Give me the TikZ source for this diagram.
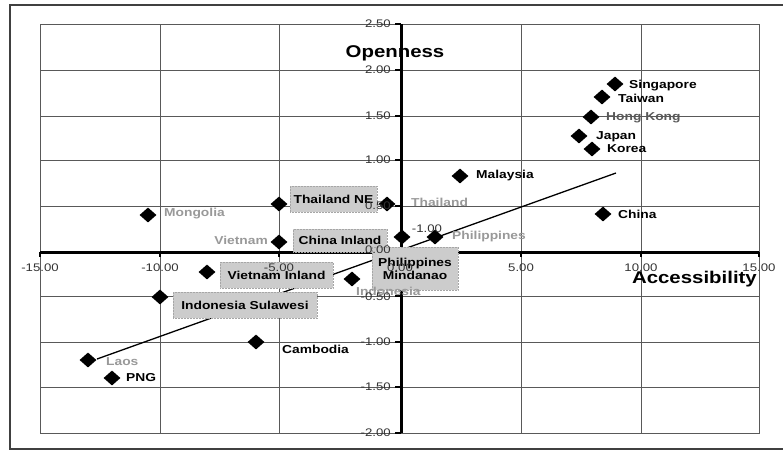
\documentclass[tikz,border=0pt]{standalone}
\usepackage{fontspec}
\setmainfont{Liberation Sans}[FakeStretch=1.2]
\usetikzlibrary{shapes.geometric}
\begin{document}
\begin{tikzpicture}[x=1pt,y=-1pt,
  dia/.style={diamond, fill=black, minimum width=17pt, minimum height=15pt, inner sep=0pt},
  lab/.style={anchor=west, font=\fontsize{11.5}{12}\selectfont\bfseries, inner sep=0pt},
  glab/.style={lab, text=black!40},
  lbox/.style={fill=black!20, draw=black!35, densely dotted, line width=0.5pt,
    font=\fontsize{11.5}{13}\selectfont\bfseries, align=center, inner sep=0pt},
  tickl/.style={font=\fontsize{11}{12}\selectfont, text=black!80, inner sep=0pt},
  gridl/.style={draw=black!65, line width=0.9pt},
  axisl/.style={line width=3pt},
  ttl/.style={font=\fontsize{17}{18}\selectfont\bfseries, inner sep=0pt}]
\useasboundingbox (0,0) rectangle (783,451);
\fill[white] (0,0) rectangle (783,451);
% outer frame
\draw[line width=2pt, black!75] (783,5) -- (10,5) -- (10,449) -- (783,449);
% grid
\foreach \gx in {160,279,521,641} \draw[gridl] (\gx,24) -- (\gx,433);
\foreach \gy in {70,116,160,206,296,342,387} \draw[gridl] (40,\gy) -- (759,\gy);
\draw[gridl] (40,24) rectangle (759,433);
% axes
\draw[axisl] (401,24) -- (401,433);
\draw[axisl] (40,252) -- (759,252);
\foreach \gy in {24,70,116,160,206,296,342,387,433} \draw[line width=2pt] (395,\gy) -- (401,\gy);
\foreach \gx in {40,160,279,521,641,759} \draw[line width=2pt] (\gx,252) -- (\gx,257);
% trend line
\coordinate (t1) at (97,359);
\coordinate (t2) at (616,173);
\draw[line width=1.3pt] (t1) -- (t2);
% data points
\node[dia] (sg) at (615,84) {};
\node[dia] (tw) at (602,97) {};
\node[dia] (hk) at (591,117) {};
\node[dia] (jp) at (579,136) {};
\node[dia] (kr) at (592,149) {};
\node[dia] (my) at (460,176) {};
\node[dia] (cn) at (603,214) {};
\node[dia] (th) at (387,204) {};
\node[dia] (thne) at (279,204) {};
\node[dia] (mn) at (148,215) {};
\node[dia] (vn) at (279,242) {};
\node[dia] (phm) at (402,237) {};
\node[dia] (ph) at (435,237) {};
\node[dia] (id) at (352,279) {};
\node[dia] (vni) at (207,272) {};
\node[dia] (ids) at (160,297) {};
\node[dia] (kh) at (256,342) {};
\node[dia] (la) at (88,360) {};
\node[dia] (png) at (112,378) {};
% label boxes
\node[lbox, minimum width=87pt, minimum height=26pt] (bthne) at (333.5,199) {Thailand NE};
\node[lbox, minimum width=94pt, minimum height=23pt] (bcni) at (340,240.5) {China Inland};
\node[lbox, minimum width=86pt, minimum height=43pt] (bphm) at (415,268.5) {Philippines\\Mindanao};
\node[lbox, minimum width=113pt, minimum height=26pt] (bvni) at (276.5,275) {Vietnam Inland};
\node[lbox, minimum width=144pt, minimum height=26pt] (bids) at (245,305) {Indonesia Sulawesi};
% labels
\node[lab] (lsg) at (629,86) {Singapore};
\node[lab] (ltw) at (618,98) {Taiwan};
\node[lab, text=black!65] (lhk) at (606,118) {Hong Kong};
\node[lab] (ljp) at (596,137) {Japan};
\node[lab] (lkr) at (607,149) {Korea};
\node[lab] (lmy) at (476,176) {Malaysia};
\node[lab] (lcn) at (618,214) {China};
\node[glab] (lth) at (411,202) {Thailand};
\node[glab] (lmn) at (164,214) {Mongolia};
\node[glab, anchor=east] (lvn) at (268,240) {Vietnam};
\node[glab] (lph) at (452,237) {Philippines};
\node[glab] (lid) at (356,291) {Indonesia};
\node[lab] (lkh) at (282,349) {Cambodia};
\node[glab] (lla) at (106,362) {Laos};
\node[lab] (lpng) at (126,378) {PNG};
\node[tickl] (stray) at (427,229) {-1.00};
% tick labels
\foreach \gy/\t in {24/2.50,70/2.00,116/1.50,160/1.00,206/0.50,250/0.00,297/-0.50,342/-1.00,387/-1.50,433/-2.00}
  \node[tickl, anchor=east] at (391,\gy) {\t};
\foreach \gx/\t in {40/-15.00,160/-10.00,279/-5.00,400/0.00,521/5.00,641/10.00,759/15.00}
  \node[tickl] at (\gx,268) {\t};
% axis titles
\node[ttl] (ttly) at (395,53) {Openness};
\node[ttl, anchor=east] (ttlx) at (757,279) {Accessibility};
\end{tikzpicture}
\end{document}
